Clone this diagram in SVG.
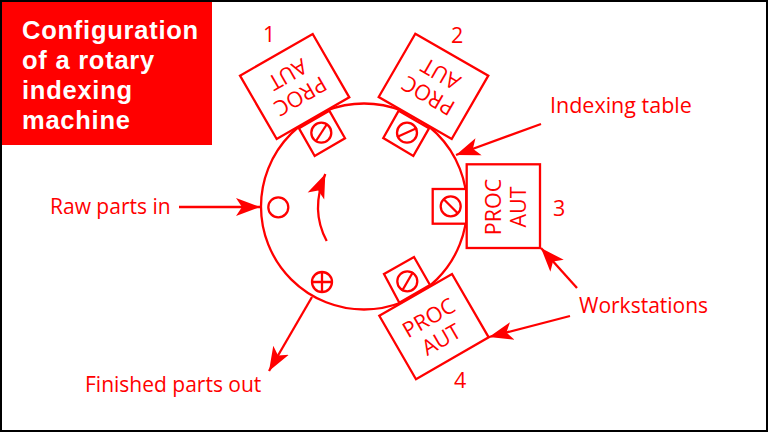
<svg xmlns="http://www.w3.org/2000/svg" width="768" height="432" viewBox="0 0 768 432">
<defs>
<style>
.s{fill:none;stroke:#f00;stroke-width:2.3}
.b{fill:#fff;stroke:#f00;stroke-width:2.3}
.t{font-family:"Open Sans","Noto Sans",sans-serif;fill:#f00;font-size:21px}
.n{font-family:"Open Sans","Noto Sans",sans-serif;fill:#f00;font-size:21.5px}
.p{font-family:"Open Sans","Noto Sans",sans-serif;fill:#f00;font-size:21.5px;text-anchor:middle}
.h{font-family:"Liberation Sans",Arial,sans-serif;fill:#fff;font-size:25.5px;font-weight:700;letter-spacing:.75px}
</style>
<marker id="a" markerUnits="userSpaceOnUse" markerWidth="26" markerHeight="20" refX="24" refY="10" orient="auto"><path d="M0 1 L24 10 L0 19 L6 10Z" fill="#f00"/></marker>
</defs>
<rect width="768" height="432" fill="#fff"/>
<rect x="1" y="1" width="766" height="430" fill="none" stroke="#000" stroke-width="2"/>
<g id="title"><rect x="2" y="2" width="210" height="143" fill="#f00"/>
<text class="h" x="22" y="39">Configuration</text><text class="h" x="22" y="69">of a rotary</text><text class="h" x="22" y="99">indexing</text><text class="h" x="22" y="129">machine</text></g>
<g id="table"><circle class="s" cx="364" cy="206.5" r="103"/></g>
<g id="station1"><polygon class="b" points="299,128.3 329.3,110.7 345,138.3 314.7,156"/><circle class="s" cx="321.3" cy="132.7" r="10"/><line class="s" x1="316" y1="141" x2="327" y2="124"/>
<polygon class="b" points="240,75.7 312.7,34 349.3,97.3 276.7,139"/>
<g transform="translate(295,87) rotate(150)"><text class="p" x="0" y="-3">PROC</text><text class="p" x="0" y="22">AUT</text></g></g>
<g id="station2"><polygon class="b" points="383.3,138 398.7,110.7 429,128.3 413.3,156"/><circle class="s" cx="407" cy="132.7" r="10"/><line class="s" x1="397" y1="137" x2="417" y2="128"/>
<polygon class="b" points="415.3,33.7 488.3,75.7 451.7,139 378.7,97"/>
<g transform="translate(433.5,86.5) rotate(210)"><text class="p" x="0" y="-3">PROC</text><text class="p" x="0" y="22">AUT</text></g></g>
<g id="station3"><rect class="b" x="432.7" y="189" width="33.5" height="34.7"/><circle class="s" cx="450.7" cy="206.3" r="10"/><line class="s" x1="443.5" y1="199" x2="458" y2="213.5"/>
<rect class="b" x="466.7" y="164.3" width="73.3" height="83.7"/>
<g transform="translate(503.5,207) rotate(-90)"><text class="p" x="0" y="-3">PROC</text><text class="p" x="0" y="22">AUT</text></g></g>
<g id="station4"><polygon class="b" points="384,274 414,257 430,285 399.3,302.7"/><circle class="s" cx="407.3" cy="281.3" r="10"/><line class="s" x1="402" y1="291" x2="413" y2="272"/>
<polygon class="b" points="379.3,315.7 452,274 488.7,337.3 416,379.3"/>
<g transform="translate(434,327) rotate(-30)"><text class="p" x="0" y="-3">PROC</text><text class="p" x="0" y="22">AUT</text></g></g>
<g id="raw"><circle class="s" cx="278.3" cy="207.3" r="10"/></g>
<g id="finished"><circle class="s" cx="322" cy="282" r="10"/><path class="s" d="M312 282H332M322 272V292"/></g>
<g id="connectors">
<path class="s" marker-end="url(#a)" d="M326.7 241 Q310 210 325.3 174"/>
<line class="s" marker-end="url(#a)" x1="179" y1="207" x2="260" y2="207"/>
<line class="s" marker-end="url(#a)" x1="312" y1="297" x2="269" y2="371"/>
<line class="s" marker-end="url(#a)" x1="541" y1="124" x2="456" y2="155"/>
<line class="s" marker-end="url(#a)" x1="577" y1="288" x2="541" y2="248"/>
<line class="s" marker-end="url(#a)" x1="570" y1="316" x2="489" y2="337"/>
</g>
<g id="labels">
<text class="n" x="263" y="42">1</text><text class="n" x="451" y="43">2</text><text class="n" x="553" y="216">3</text><text class="n" x="454" y="388">4</text>
<text class="t" x="50" y="214">Raw parts in</text><text class="t" x="550" y="113" style="font-size:21.5px">Indexing table</text><text class="t" x="579" y="313">Workstations</text><text class="t" x="85" y="392">Finished parts out</text>
</g>
</svg>
